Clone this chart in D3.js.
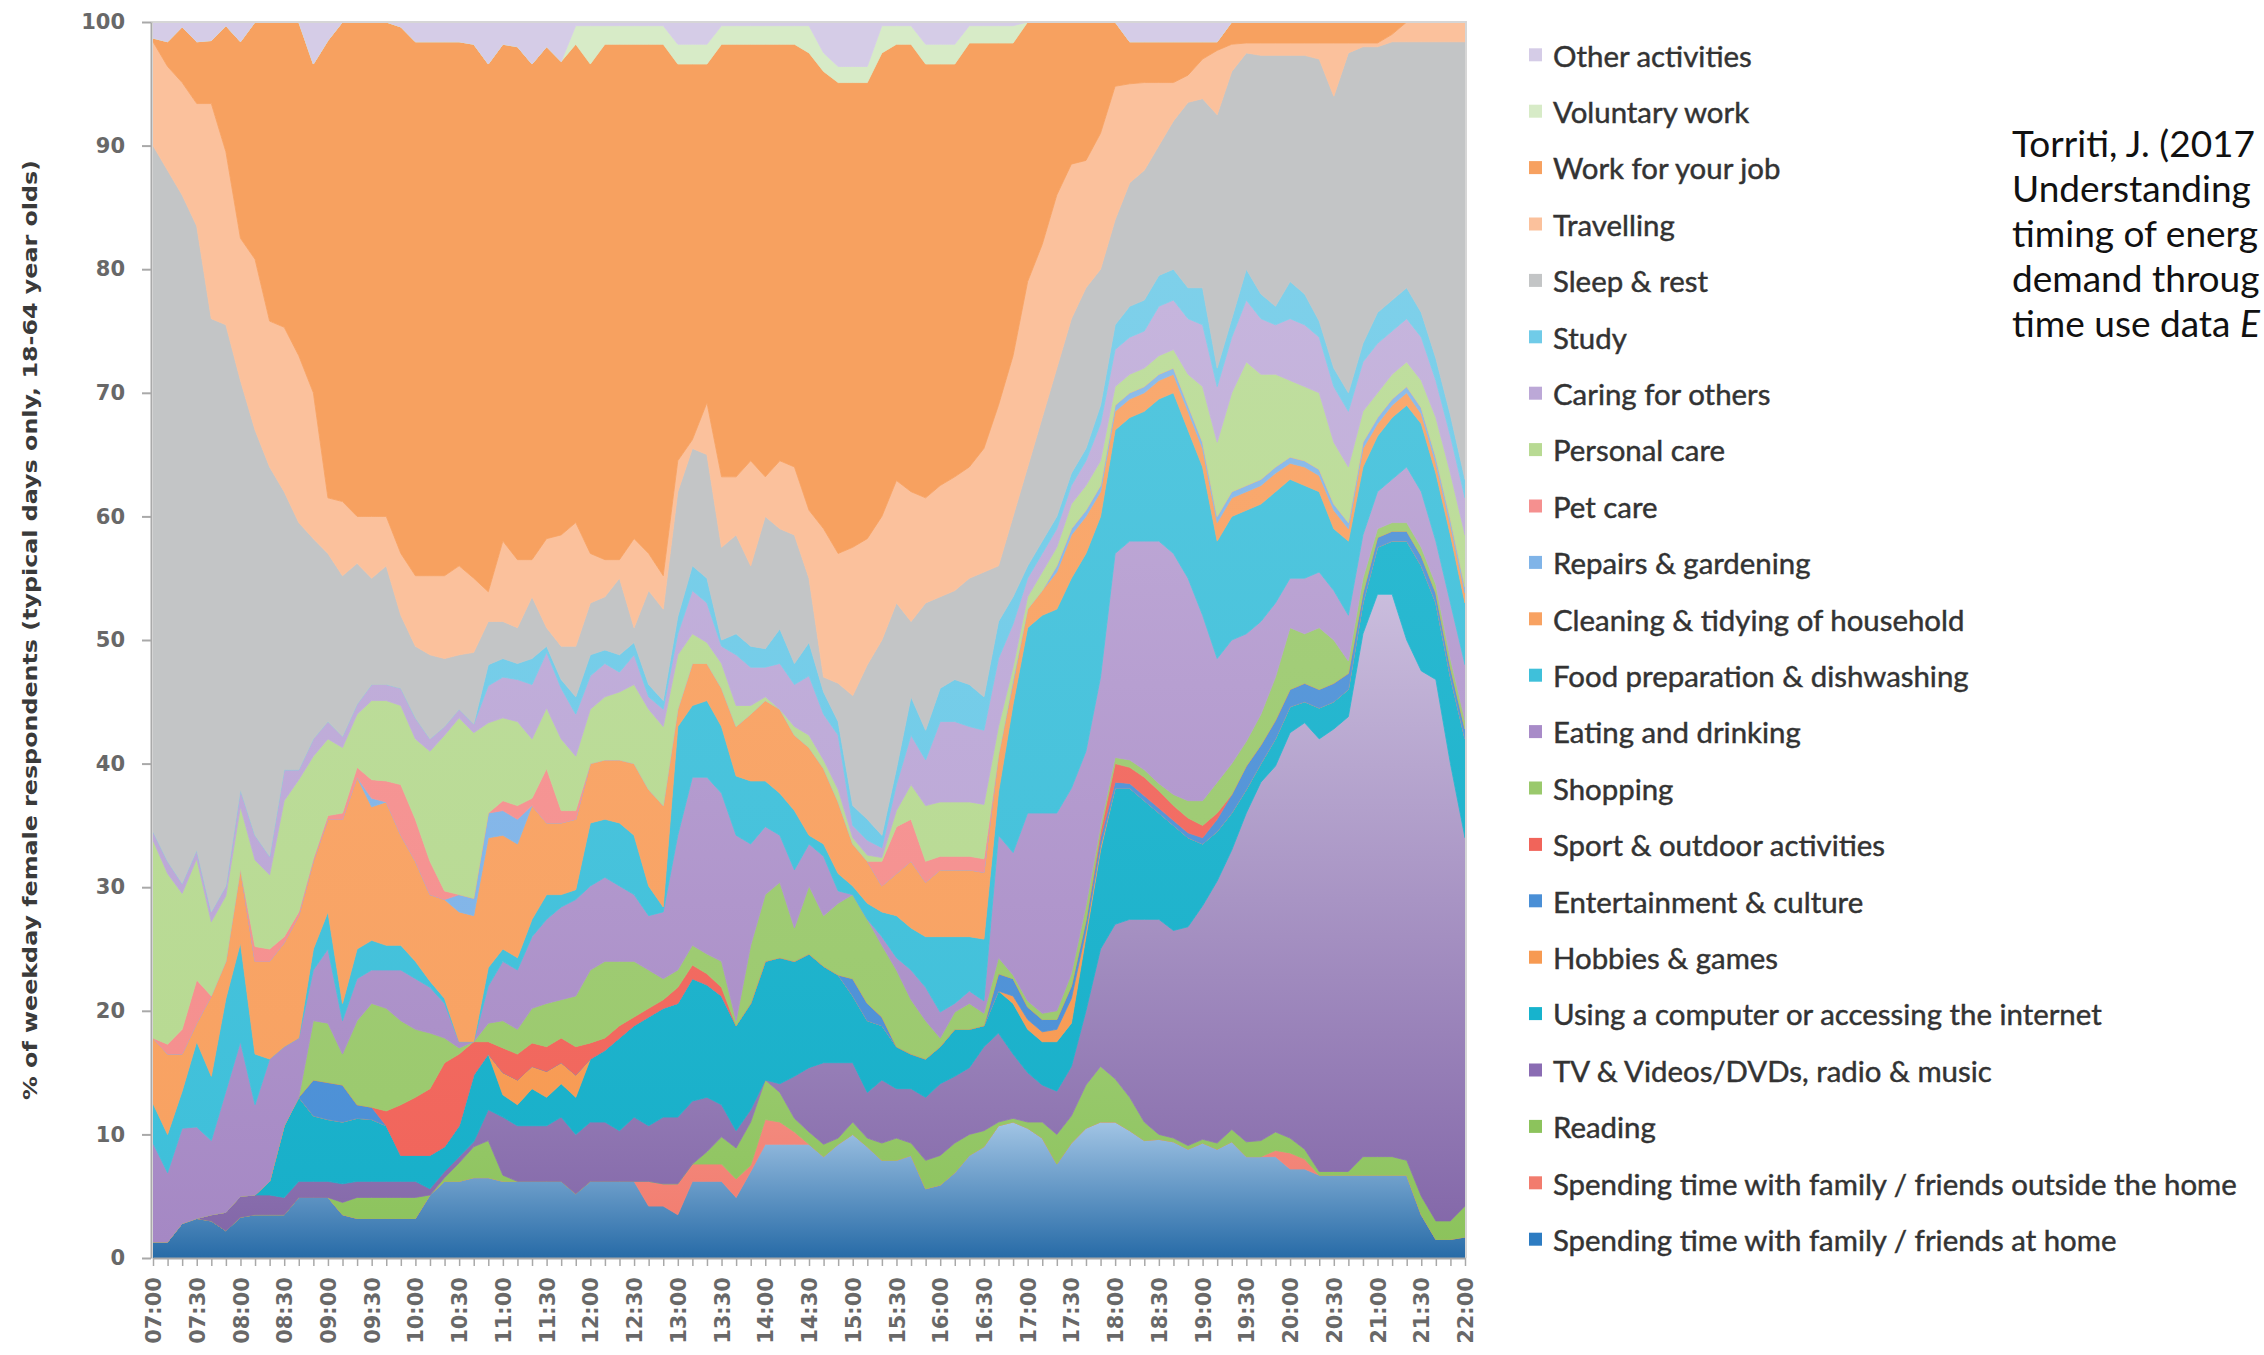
<!DOCTYPE html>
<html><head><meta charset="utf-8">
<script src="https://cdn.jsdelivr.net/npm/d3@7"></script>
<style>
html,body{margin:0;padding:0;background:#fff;overflow:hidden;}
svg{display:block;}
</style></head><body>
<svg id="chart" width="2264" height="1355"></svg>
<script>
const times = ["07:00","07:10","07:20","07:30","07:40","07:50","08:00","08:10","08:20","08:30","08:40","08:50","09:00","09:10","09:20","09:30","09:40","09:50","10:00","10:10","10:20","10:30","10:40","10:50","11:00","11:10","11:20","11:30","11:40","11:50","12:00","12:10","12:20","12:30","12:40","12:50","13:00","13:10","13:20","13:30","13:40","13:50","14:00","14:10","14:20","14:30","14:40","14:50","15:00","15:10","15:20","15:30","15:40","15:50","16:00","16:10","16:20","16:30","16:40","16:50","17:00","17:10","17:20","17:30","17:40","17:50","18:00","18:10","18:20","18:30","18:40","18:50","19:00","19:10","19:20","19:30","19:40","19:50","20:00","20:10","20:20","20:30","20:40","20:50","21:00","21:10","21:20","21:30","21:40","21:50","22:00"];
const tickLabels = ["07:00","07:30","08:00","08:30","09:00","09:30","10:00","10:30","11:00","11:30","12:00","12:30","13:00","13:30","14:00","14:30","15:00","15:30","16:00","16:30","17:00","17:30","18:00","18:30","19:00","19:30","20:00","20:30","21:00","21:30","22:00"];
const yTicks = [0,10,20,30,40,50,60,70,80,90,100];

// series, bottom of the stack first (legend lists them top first)
const seriesNames = ["Spending time with family / friends at home","Spending time with family / friends outside the home","Reading","TV & Videos/DVDs, radio & music","Using a computer or accessing the internet","Hobbies & games","Entertainment & culture","Sport & outdoor activities","Shopping","Eating and drinking","Food preparation & dishwashing","Cleaning & tidying of household","Repairs & gardening","Pet care","Personal care","Caring for others","Study","Sleep & rest","Travelling","Work for your job","Voluntary work","Other activities"];

const home = [1.3,1.3,2.8,3.2,3,2.2,3.3,3.5,3.5,3.5, 4.9,4.9,4.9,3.5,3.2,3.2,3.2,3.2,3.2,5.1, 6.2,6.2,6.5,6.5,6.2,6.2,6.2,6.2,6.2,5.2, 6.2,6.2,6.2,6.2,4.2,4.2,3.5,6.2,6.2,6.2, 4.9,7,9.2,9.2,9.2,9.2,8.2,9.2,10,9, 7.9,7.9,8.3,5.6,5.9,6.9,8.3,9,10.7,11, 10.5,9.7,7.6,9.3,10.5,11,11,10.3,9.5,9.6, 9.4,8.8,9.3,8.8,9.4,8.2,8.2,8.2,7.2,7.2, 6.7,6.7,6.7,6.7,6.7,6.7,6.7,3.5,1.5,1.5, 1.7];
const outside = [0,0,0,0,0,0,0,0,0,0, 0,0,0,0,0,0,0,0,0,0, 0,0,0,0,0,0,0,0,0,0, 0,0,0,0,2,1.8,2.5,1.4,1.4,1.4, 1.5,0.5,2,1.8,1,0,0,0,0,0, 0,0,0,0,0,0,0,0,0,0, 0,0,0,0,0,0,0,0,0,0, 0,0,0,0,0,0,0,0.5,1.3,0.8, 0,0,0,0,0,0,0,0,0,0, 0];
const reading = [0,0,0,0,0,0,0,0,0,0, 0,0,0,1,1.7,1.7,1.7,1.7,1.7,0, 0.3,1.5,2.5,3,0.5,0,0,0,0,0, 0,0,0,0,0,0,0,0,1,2.2, 2.5,3.5,3.2,2.4,1.1,1,1,0.5,1,0.7, 1.4,1.8,1,2.3,2.4,2.4,1.7,1.3,0.3,0.3, 0.5,1.3,2.4,2.2,3.5,4.5,3.5,2.7,1.5,0.4, 0.3,0.3,0.3,0.5,1,1.2,1.3,1.5,1.2,0.8, 0.3,0.3,0.3,1.5,1.5,1.5,1.2,1.5,1.5,1.5, 2.5];
const tv = [0,0,0,0,0.5,1.5,1.7,1.6,1.6,1.4, 1.3,1.3,1.3,1.5,1.3,1.3,1.3,1.3,1.3,0.5, 0.5,0.5,0.4,2.5,4.7,4.5,4.5,4.5,5.2,4.8, 4.8,4.8,4.1,5.2,4.5,5.4,5.4,5.1,4.4,2.6, 1.4,1,0,0.7,3.4,5.2,6.6,6.1,4.8,3.7, 5.1,4,4.4,5.1,5.8,5.4,5.4,6.8,7.2,5.2, 4,3,3.5,4,6,9.5,12.5,14.4,16.4,17.4, 16.8,17.7,18.9,21.2,22.6,26.6,29,29.6,32.8,34.5, 35,35.8,36.8,42.3,45.5,45.5,42.1,42.5,43.8,37, 29.8];
const computer = [0,0,0,0,0,0,0,0,1.1,5.8, 6.8,5.3,5,5,5.1,5,4.5,2.1,2.1,2.7, 2,2.5,5.4,4.5,1.8,1.7,3,2.3,2.7,3, 5.1,5.8,7.5,7.4,8.8,8.8,9.2,9.9,9.1,8.8, 8.5,8.6,9.6,10.2,9.3,9.2,7.8,7.1,5.4,5.8, 4.4,3.4,2.8,3.1,3,3.8,3.1,1.7,3.4,4.1, 3.5,3.5,4,3.5,6,8,11,10.6,9.6,8.6, 8.5,7.2,5,4,3,1.9,1.5,2.2,2.1,1.7, 2.5,2.2,2.2,2.5,3.8,4.3,8,8.5,6.2,7, 8];
const hobbies = [0,0,0,0,0,0,0,0,0,0, 0,0,0,0,0,0,0,0,0,0, 0,0,0,0,1.8,2,1.8,2.1,1.7,1.8, 0,0,0,0,0,0,0,0,0,0, 0,0,0,0,0,0,0,0,0,0, 0,0,0,0,0,0,0,0,0,0.6, 0.8,0.8,1,2,0.5,0.3,0,0,0,0, 0,0,0,0,0,0,0,0,0,0, 0,0,0,0,0,0,0,0,0,0, 0];
const entertainment = [0,0,0,0,0,0,0,0,0,0, 0,2.9,3,3,1.1,1,0,0,0,0, 0,0,0,0,0,0,0,0,0,0, 0,0,0,0,0,0,0,0,0,0, 0,0,0,0,0,0,0,0,1.4,1.4, 0.7,0,0,0,0,0,0,0,1.4,1.4, 1,1,0.8,1,0.8,0.7,0.5,0.4,0.4,0.4, 0.4,0.4,0.5,1,1.5,1.9,1.5,1.5,1.4,1.5, 1.5,1.5,1.3,0.8,0.8,0.8,0.8,0.8,0.8,0.8, 0.8];
const sport = [0,0,0,0,0,0,0,0,0,0, 0,0,0,0,0,0,1.2,4.1,4.7,5.4, 6.8,5.8,2.7,1,2,2.1,1.9,2,2,2.3, 1.3,1,1,0.7,0.7,0.7,1.3,1.1,0.9,0.7, 0,0,0,0,0,0,0,0,0,0, 0,0,0,0,0,0,0,0,0,0, 0,0,0,0,0,0.5,1.5,1.3,1.5,1.4, 1.2,1.2,1,0.5,0,0,0,0,0,0, 0,0,0,0,0,0,0,0,0,0, 0];
const shopping = [0,0,0,0,0,0,0,0,0,0, 0,4.8,4.8,2.5,6.8,8.4,8.3,6.8,5.5,4.5, 2,0.5,0,1.5,2.2,2,2.8,3.5,3.1,4.1, 5.9,6.2,5.2,4.5,3.1,1.7,1.4,1.6,1.6,2.1, 0.4,4.7,5.4,6.1,2.7,5.5,4.1,5.8,6.8,6.8, 5.8,6.2,4.4,3.1,0.7,1.4,2.1,1,1.3,0.3, 0.5,0.5,0.7,1,1.2,0.5,0.5,0.6,0.6,0.6, 0.9,1.4,2,2.5,2.5,2,2.5,3.5,5,4, 5,3.5,1,1.2,0.7,0.7,0.7,0.7,0.7,0.7, 0.7];
const eating = [8,5.6,7.7,7.4,6,9.8,12.5,7.3,9.9,6.4, 4.8,4.1,6,2.7,3.4,2.7,3.1,4.1,4.1,3.7, 2.8,0.5,0,3,4.8,4.8,5.8,6.8,7.5,7.8, 6.8,6.8,6.1,5.4,4.4,5.4,10.9,13.6,14.3,13.6, 15,8.2,5.5,3.8,4.7,3.4,4.8,1,0,0, 0.7,1,2.4,2.7,2.1,0.7,1,1,9.9,9.9, 15.2,16.2,16,15,12.5,12,16.5,17.7,18.5,19.6, 19.5,18,15,10,10,8.7,7.5,6,4,4.5, 4.5,4,3.7,3.5,3,3.5,4.5,4.5,3.5,4.5, 4.5];
const foodPrep = [3.2,3.1,3,6.9,5.2,7.5,8,4.1,0,0, 0,1.7,3,1.4,2.4,2.4,2,2,1.4,0.5, 0.4,0,0,1.5,1,1,1.4,2,1,0.8, 5.1,4.7,5.1,4.8,2.4,0.4,8.8,5.8,6.2,5.4, 4.8,5.1,3.7,3.4,4.8,0.7,1,1.4,0.7,1.3, 2,3.4,3.4,4.1,6.1,5.4,4.4,5,3.5,12, 15,16,16.5,17,16,13,10,10,10.5,11.5, 13,12,12,9.5,10,10,9.5,9,8,7.5, 6.5,5,6,5.5,4.5,5,5,5.5,5.5,5.5, 5];
const cleaning = [5.3,6.5,3,1.5,6.5,3,6,7.5,7.9,8.4, 9.9,7.1,7.5,14.9,13.9,10.8,11.6,8.9,8.1,7, 8,10.5,10.2,10.5,9.2,9.2,9.2,5.8,5.8,5.7, 4.8,4.8,5.1,5.8,7.8,8.2,1.4,3.4,3,3.1, 4,5.4,6.5,6.8,6.1,7.1,6.1,5.8,3.4,3.4, 2.1,3.4,5.4,4.4,5.4,5.4,5.4,5.4,3,1.7, 1.5,2,3,3.5,3,2,1.5,1.5,1.5,1.5, 1.5,1.5,1.5,1.5,1.5,1.5,1.5,1.5,1.3,1.5, 1.3,1.5,1,1.5,1,1,1,0.8,0.8,0.8, 0.8];
const repairs = [0,0,0,0,0,0,0,0,0,0, 0,0,0,0,0,0.7,0,0,0,0, 0,1.4,1.4,2,2,2,0,0,0,0, 0,0,0,0,0,0,0,0,0,0, 0,0,0,0,0,0,0,0,0,0, 0,0,0,0,0,0,0,0,0,0.3, 0,0,0.5,0.5,0.5,0.5,0.5,0.5,0.5,0.5, 0.5,0.5,0.5,0.5,0.5,0.5,0.5,0.5,0.5,0.5, 0.5,0.5,0.5,0.5,0.5,0.5,0.5,0.5,0.5,0.5, 0.5];
const petCare = [0,0.8,2,3.5,0,0,0,1.2,1,0.5, 0.3,0.2,0.3,0.5,0.8,1.5,1.7,4.1,3.4,2.7, 0.7,0,0,0,0.8,1.1,0.6,4.4,1,0.7, 0,0,0,0,0,0,0,0,0,0, 0,0,0,0,0,0,0,0,0,0, 2,3.8,3.4,1.7,1.1,1.1,1.1,1.1,0,0, 0,0,0,0,0,0,0,0,0,0, 0,0,0,0,0,0,0,0,0,0, 0,0,0,0,0,0,0,0,0,0, 0];
const personalCare = [16,13.8,11,9.8,6,5.3,5,7,6,11, 10.7,8.3,6.2,5.3,4.3,6.4,6.5,6.4,6.5,8.9, 12.6,14.3,13.4,7.3,6.7,6.8,4.8,4.9,5.8,4.4, 4.4,5.1,5.5,6.4,6.5,6.4,4.4,2.4,1.7,2, 1.7,0.7,0.3,0,0.7,1,0.7,1,0.5,0.5, 0.3,1.3,2.8,4.5,4.4,4.4,4.4,4.4,2.3,1, 1,1.5,1.5,2,2,2,1.5,1.5,1.5,1.5, 1.5,2.5,4.5,6,8,10,8.5,7.5,6.2,6, 6.2,5,4.5,2.5,2,2,2,2.2,3.2,3.7, 4.2];
const caring = [0.7,1,0.8,0.7,0.8,0.8,1.4,2,1.5,2.5, 0.8,1.4,1.4,0.9,0.8,1.3,1.3,1.4,1.7,1, 0.7,0.7,0.7,3,3.3,3.4,4.4,4.5,4.1,3.4, 2.7,2.7,1.6,2.4,1,1.4,1.7,3.5,3.2,1.4, 4.1,3.1,2.4,3.7,3.4,4.8,3.7,4.4,1,1.2, 0.8,2.1,4,3.7,6.5,6.5,6.1,6,5.5,3.5, 1.5,1.5,1.5,1.5,2,3,3,3,3,4, 4,4.5,5,4.5,4.5,5,4.5,4,5,5, 4.5,4.5,4.5,4,4,3.5,3.5,3.5,3,3, 3];
const study = [0,0,0,0,0,0,0,0,0,0, 0,0,0,0,0,0,0,0,0,0, 0,0,0,1.7,1.5,1.3,2.1,0.5,0.7,1.4, 1.7,1.1,1.4,1,1,0.7,1.4,2,2,0.5, 1.7,1.7,1.5,2.8,1.7,2.7,1.8,1.1,1.6,1.7, 1,1.3,3.1,2.4,2.7,3.4,3.4,2.7,3,2.2, 1,1,1,1,1,1.5,2,2.5,2.5,2.5, 2.5,2.5,3,1.5,1.5,2.5,2,1.5,3,2.5, 1.3,1.5,1.5,1.5,2.5,2.5,2.5,2,1.8,1.7, 1.5];
const sleep = [55.5,55.9,55.7,50.5,48,45.4,33.1,32.8,31.5,22.5, 20,16.2,13.6,13,11.4,8.6,9.6,5.9,5.8,6.8, 5.5,4.4,5.8,3.5,3,2.9,5,1.5,2.7,4.1, 4.2,4.3,6.2,1.2,7.6,7.4,10.1,9.5,10,7.5, 8,6.5,10.7,8.1,10.4,5.2,1.2,3.1,8.9,12.5, 15.8,13.4,6.1,10.3,7.4,7.2,8.6,10.1,4.5,6.5, 8,10,12,12.5,13,11,8.5,10,10.5,10.5, 12,15,15.3,20.5,20,17.5,19.3,20.3,18.3,19.3, 21.2,22,27.5,24,21.5,20.9,19.9,21.9,25.6,30.2, 35.4];
const travelling = [8.4,8.4,9.1,9.9,17.4,14,11.5,13.8,11.8,13.3, 13.5,11.8,4.5,6,3.8,5,4,5,5.7,6.4, 6.7,7.2,6,2.4,6.5,5.5,3,7.2,9,10, 4,3,1.5,7.2,3,2.7,2.5,0.7,4.2,5.7, 4.7,8.5,3.2,5.5,5.5,5.5,12,10.5,12,10.2, 10,9.9,10.5,8.5,9,9.2,9,10,13,13, 15,14,14,12.5,10.3,11,10.8,8,7.1,5.1, 3.1,2.2,3.2,5.2,2.2,0.8,1,1,1,1, 1.3,4.3,0.8,0.3,0.3,0.6,1.6,1.6,1.6,1.6, 1.6];
const work = [0.3,2,4.5,5,5.1,10.2,15.9,19.2,24.2,24.7, 27,26.6,37,38.8,40,40,40,42.6,43.2,43.2, 43.2,42.4,43.2,42.7,40.2,41.5,40.1,39.8,38.3,38.7, 39.6,41.7,41.7,40,41.2,43,32.1,30.4,27.4,35, 35,33.7,35,33.7,34.2,37,37,38.1,37.6,36.9, 37.5,35.3,36.2,35.1,34.1,33.4,34.3,32.8,29.3,25.3, 21,18,14,11.5,11.2,9,5.2,3.4,3.3,3.3, 3.3,2.7,1.4,0.7,1.8,1.7,1.7,1.7,1.7,1.7, 1.7,1.7,1.7,1.7,1.7,1,0,0,0,0, 0];
const voluntary = [0,0,0,0,0,0,0,0,0,0, 0,0,0,0,0,0,0,0,0,0, 0,0,0,0,0,0,0,0,0,1.5, 3.1,1.5,1.5,1.5,1.5,1.5,1.6,1.6,1.6,1.5, 1.5,1.5,1.5,1.5,1.5,2.2,1.5,1.3,1.3,1.3, 2.2,1.5,1.5,1.6,1.6,1.6,1.4,1.4,1.4,1.4, 0,0,0,0,0,0,0,0,0,0, 0,0,0,0,0,0,0,0,0,0, 0,0,0,0,0,0,0,0,0,0, 0];
const other = [1.3,1.6,0.4,1.6,1.5,0.3,1.6,0,0,0, 0,3.4,1.5,0,0,0,0,0.4,1.6,1.6, 1.6,1.6,1.8,3.4,1.8,2,3.4,2,3.2,0.3, 0.3,0.3,0.3,0.3,0.3,0.3,1.8,1.8,1.8,0.3, 0.3,0.3,0.3,0.3,0.3,0.3,2.5,3.6,3.6,3.6, 0.3,0.3,0.3,1.8,1.8,1.8,0.3,0.3,0.3,0.3, 0,0,0,0,0,0,0,1.6,1.6,1.6, 1.6,1.6,1.6,1.6,0,0,0,0,0,0, 0,0,0,0,0,0,0,0,0,0, 0];

const seriesValues = [home,outside,reading,tv,computer,hobbies,entertainment,sport,shopping,eating,foodPrep,cleaning,repairs,petCare,personalCare,caring,study,sleep,travelling,work,voluntary,other];

// citation lines, as far as they are visible at the right edge of the reference
const citationLines = ["Torriti, J. (2017","Understanding","timing of energ","demand throug","time use data "];
const citationItalic = "E";

// styling (colours and gradient strength per series)
const colors = ["#2d7cc2","#f27c6e","#8cc35c","#8a6cb3","#17b3cd","#f79a52","#4a8fd6","#f1645a","#9ac96c","#a88bc8","#3fc0da","#f8a262","#80b4e8","#f5908f","#b8da93","#bca8d7","#70cbe8","#c3c5c6","#fbc19c","#f7a160","#d7ebc7","#d5cce7"];
const lighten = [0.55,0.1,0.1,0.55,0.08,0.08,0.1,0.1,0.1,0.25,0.1,0.08,0.1,0.1,0.1,0.15,0.1,0,0,0,0,0];
const darken  = [0.35,0,0,0.15,0.05,0,0,0,0,0.05,0,0,0,0,0,0,0,0,0,0,0,0];

const svg = d3.select('#chart');
const P = {left:153, right:1465, top:22, bottom:1258};
const x = d3.scalePoint().domain(times).range([P.left, P.right]);
const y = d3.scaleLinear().domain([0,100]).range([P.bottom, P.top]);

const rows = times.map((t,i)=>{const r={time:t}; seriesNames.forEach((k,j)=>{r[k]=seriesValues[j][i];}); return r;});
const layers = d3.stack().keys(seriesNames)(rows);

const defs = svg.append('defs');
defs.append('clipPath').attr('id','plotclip').append('rect')
  .attr('x',P.left).attr('y',P.top).attr('width',P.right-P.left).attr('height',P.bottom-P.top);
colors.forEach((c,i)=>{
  const g = defs.append('linearGradient').attr('id','grad'+i).attr('x1',0).attr('y1',0).attr('x2',0).attr('y2',1);
  const top = d3.interpolateRgb(c,'#ffffff')(lighten[i]);
  const bot = d3.interpolateRgb(c,'#000000')(darken[i]*0.4);
  g.append('stop').attr('offset','0%').attr('stop-color',top);
  g.append('stop').attr('offset','100%').attr('stop-color',bot);
});

const area = d3.area().x(d=>x(d.data.time)).y0(d=>y(d[0])).y1(d=>y(d[1]));
svg.append('g').attr('clip-path','url(#plotclip)')
  .selectAll('path').data(layers).join('path')
  .attr('d',area)
  .attr('fill',(d,i)=>`url(#grad${i})`)
  .attr('stroke',(d,i)=>`url(#grad${i})`)
  .attr('stroke-width',0.8)
  .attr('stroke-linejoin','round');

// frame
svg.append('path').attr('d',`M${P.left-2},${P.top}H${P.right+1}V${P.bottom}`)
  .attr('fill','none').attr('stroke','#d6d6d6').attr('stroke-width',2);

const axisColor = '#a9a9a9';
const labelColor = '#686868';
const yAxis = svg.append('g').attr('transform',`translate(${P.left-2},0)`)
  .call(d3.axisLeft(y).tickValues(yTicks).tickSize(9).tickSizeOuter(0).tickPadding(17));
yAxis.select('.domain').attr('stroke',axisColor).attr('stroke-width',2);
yAxis.selectAll('.tick line').attr('stroke',axisColor).attr('stroke-width',2);
yAxis.selectAll('.tick text').attr('fill',labelColor)
  .style('font-family','DejaVu Sans').style('font-weight','bold').style('font-size','21px');

const xAxis = svg.append('g').attr('transform',`translate(0,${P.bottom})`)
  .call(d3.axisBottom(x).tickSize(8).tickSizeOuter(0).tickFormat(t=>tickLabels.includes(t)?t:''));
xAxis.select('.domain').attr('stroke',axisColor).attr('stroke-width',2);
xAxis.selectAll('.tick line').attr('stroke',axisColor).attr('stroke-width',1.5);
xAxis.selectAll('.tick text')
  .attr('transform','rotate(-90)').attr('text-anchor','end')
  .attr('x',-19).attr('y',0).attr('dy','0.36em')
  .attr('fill',labelColor)
  .style('font-family','DejaVu Sans').style('font-weight','bold').style('font-size','21px');

// y title
svg.append('text')
  .attr('transform','translate(30,630) rotate(-90)')
  .attr('text-anchor','middle').attr('dy','0.36em')
  .attr('textLength',940).attr('lengthAdjust','spacingAndGlyphs')
  .attr('fill','#3a3a3a')
  .style('font-family','DejaVu Sans').style('font-weight','bold').style('font-size','20px')
  .text('% of weekday female respondents (typical days only, 18-64 year olds)');

// legend (top of stack first)
const legendNames = seriesNames.slice().reverse();
const legendColors = colors.slice().reverse();
const lg = svg.append('g');
const probe = lg.append('text').style('font-family','Lato').style('font-size','24px')
  .text('Spending time with family / friends outside the home');
const probeW = probe.node().getComputedTextLength();
probe.remove();
const legendFont = 24*684/probeW;
legendNames.forEach((n,k)=>{
  const cy = 56.3 + 56.4*k;
  lg.append('rect').attr('x',1529).attr('y',cy-8).attr('width',13).attr('height',13).attr('fill',legendColors[k]);
  lg.append('text').attr('x',1553).attr('y',cy).attr('dy','0.35em')
    .attr('fill','#333').attr('stroke','#333').attr('stroke-width',0.45)
    .style('font-family','Lato').style('font-size',legendFont+'px')
    .text(n);
});

// citation: size it so that every visible line stays inside the page
const cg = svg.append('g');
let citeFont = 60;
citationLines.forEach((t,k)=>{
  const p = cg.append('text').style('font-family','Lato').style('font-size','40px').text(t);
  if(k===4) p.append('tspan').style('font-style','italic').text(citationItalic);
  const w = p.node().getComputedTextLength();
  p.remove();
  citeFont = Math.min(citeFont, 40*(2260-2012)/w);
});
citationLines.forEach((t,k)=>{
  const tx = cg.append('text').attr('x',2012).attr('y',144+45*k).attr('dy','0.35em')
    .attr('fill','#111').style('font-family','Lato').style('font-size',citeFont+'px').text(t);
  if(k===4){ tx.append('tspan').style('font-style','italic').text(citationItalic); }
});
</script>
</body></html>
